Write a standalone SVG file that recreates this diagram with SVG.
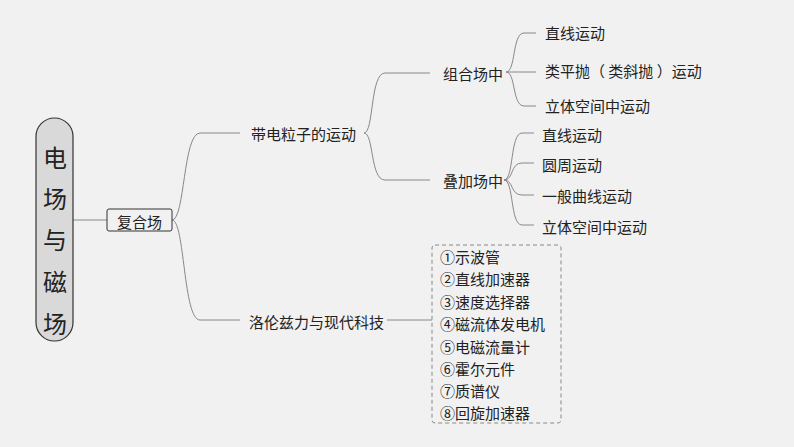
<svg xmlns="http://www.w3.org/2000/svg" width="794" height="447" viewBox="0 0 794 447">
<style>
text{font-family:"Noto Sans CJK SC","Liberation Sans",sans-serif;fill:#222;font-size:15px;dominant-baseline:central}
text.big{font-size:24px}
.c{fill:none;stroke:#888;stroke-width:1}
</style>
<rect width="794" height="447" fill="#f1f1f1"/>
<g id="connectors">
<path class="c" d="M73 220H107"/>
<path class="c" d="M172 220C185 220 183 133 200 133H240M172 220C185 220 183 320 200 320H240"/>
<path class="c" d="M364 133C374 133 370 73 385 73H430M364 133C374 133 370 180 385 180H430"/>
<path class="c" d="M506 72C516 72 512 33 524 33H536M506 72H536M506 72C516 72 512 106 524 106H536"/>
<path class="c" d="M504 180C514 180 510 133 522 133H534M504 180C514 180 510 163 522 163H534M504 180C514 180 510 195 522 195H534M504 180C514 180 510 225 522 225H534"/>
<path class="c" d="M387 320H432"/>
</g>
<g id="root"><rect x="36" y="118" width="37" height="223" rx="18.5" fill="#d9d9d9" stroke="#333" stroke-width="1.2"/>
<g text-anchor="middle"><text class="big" x="55" y="156">电</text><text class="big" x="55" y="197">场</text><text class="big" x="55" y="238">与</text><text class="big" x="55" y="280">磁</text><text class="big" x="55" y="322">场</text></g></g>
<g id="fuhe"><rect x="107" y="209" width="65" height="22" rx="2" fill="#f1f1f1" stroke="#333"/><text x="117" y="221">复合场</text></g>
<g id="dai"><text x="251" y="133">带电粒子的运动</text></g>
<g id="luo"><text x="249" y="321">洛伦兹力与现代科技</text></g>
<g id="zuhe"><text x="443" y="73">组合场中</text></g>
<g id="diejia"><text x="443" y="180">叠加场中</text></g>
<g id="z1"><text x="545" y="32">直线运动</text></g>
<g id="z2"><text x="545" y="70">类平抛（ 类斜抛 ）运动</text></g>
<g id="z3"><text x="545" y="105">立体空间中运动</text></g>
<g id="d1"><text x="542" y="134">直线运动</text></g>
<g id="d2"><text x="542" y="164">圆周运动</text></g>
<g id="d3"><text x="542" y="195">一般曲线运动</text></g>
<g id="d4"><text x="542" y="226">立体空间中运动</text></g>
<g id="list"><rect x="432" y="245" width="129" height="178" rx="3" fill="none" stroke="#888" stroke-dasharray="4,3"/>
<text x="440" y="256">①示波管</text><text x="440" y="278">②直线加速器</text><text x="440" y="301">③速度选择器</text><text x="440" y="323">④磁流体发电机</text><text x="440" y="346">⑤电磁流量计</text><text x="440" y="368">⑥霍尔元件</text><text x="440" y="390">⑦质谱仪</text><text x="440" y="412">⑧回旋加速器</text></g>
</svg>
